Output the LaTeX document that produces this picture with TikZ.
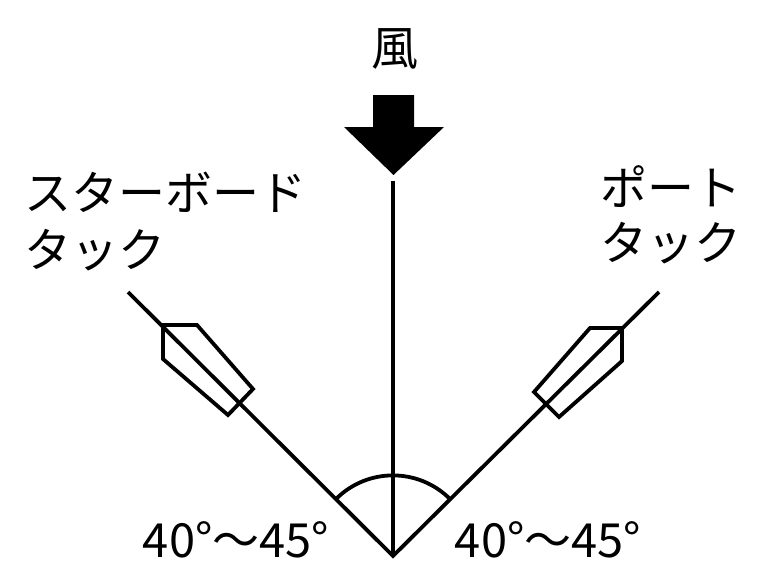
\documentclass[tikz,border=0pt]{standalone}
\usepackage{fontspec}
\newfontfamily\jpfont{Noto Sans CJK JP}
\tikzset{
  jplabel/.style={inner sep=0pt,font=\jpfont\fontsize{47}{47}\selectfont},
  course/.style={line width=3.8pt},
  hull/.style={line width=3.8pt,line join=miter}
}
\begin{document}
\begin{tikzpicture}
[x=1pt,y=-1pt]
\useasboundingbox (0,0) rectangle (768,584);
\coordinate (V) at (393,556);
\coordinate (W) at (393,181);
\coordinate (S) at (128,292);
\coordinate (P) at (659,292);

\draw[course] (V) -- (W);
\draw[course,line join=miter] (S) -- (V) -- (P);
\draw[course] (336,499) arc[start angle=225,end angle=315,radius=80.6];

\fill (373,95) -- (414,95) -- (414,127) -- (444,127) -- (393.5,175) -- (344,127) -- (373,127) -- cycle;

\draw[hull] (163,325) -- (197,325) -- (253,389) -- (228,415) -- (163,359) -- cycle;
\draw[hull] (622,328) -- (590,328) -- (534,392) -- (559,417) -- (622,361) -- cycle;

\node[jplabel] (wind) at (395,49) {風};
\node[jplabel,anchor=west] (star1) at (24,192) {スターボード};
\node[jplabel,anchor=west] (star2) at (24,250) {タック};
\node[jplabel,anchor=west] (port1) at (600,187) {ポート};
\node[jplabel,anchor=west] (port2) at (600,243) {タック};
\node[jplabel] (angL) at (236,540) {40°〜45°};
\node[jplabel] (angR) at (548,540) {40°〜45°};
\end{tikzpicture}
\end{document}
